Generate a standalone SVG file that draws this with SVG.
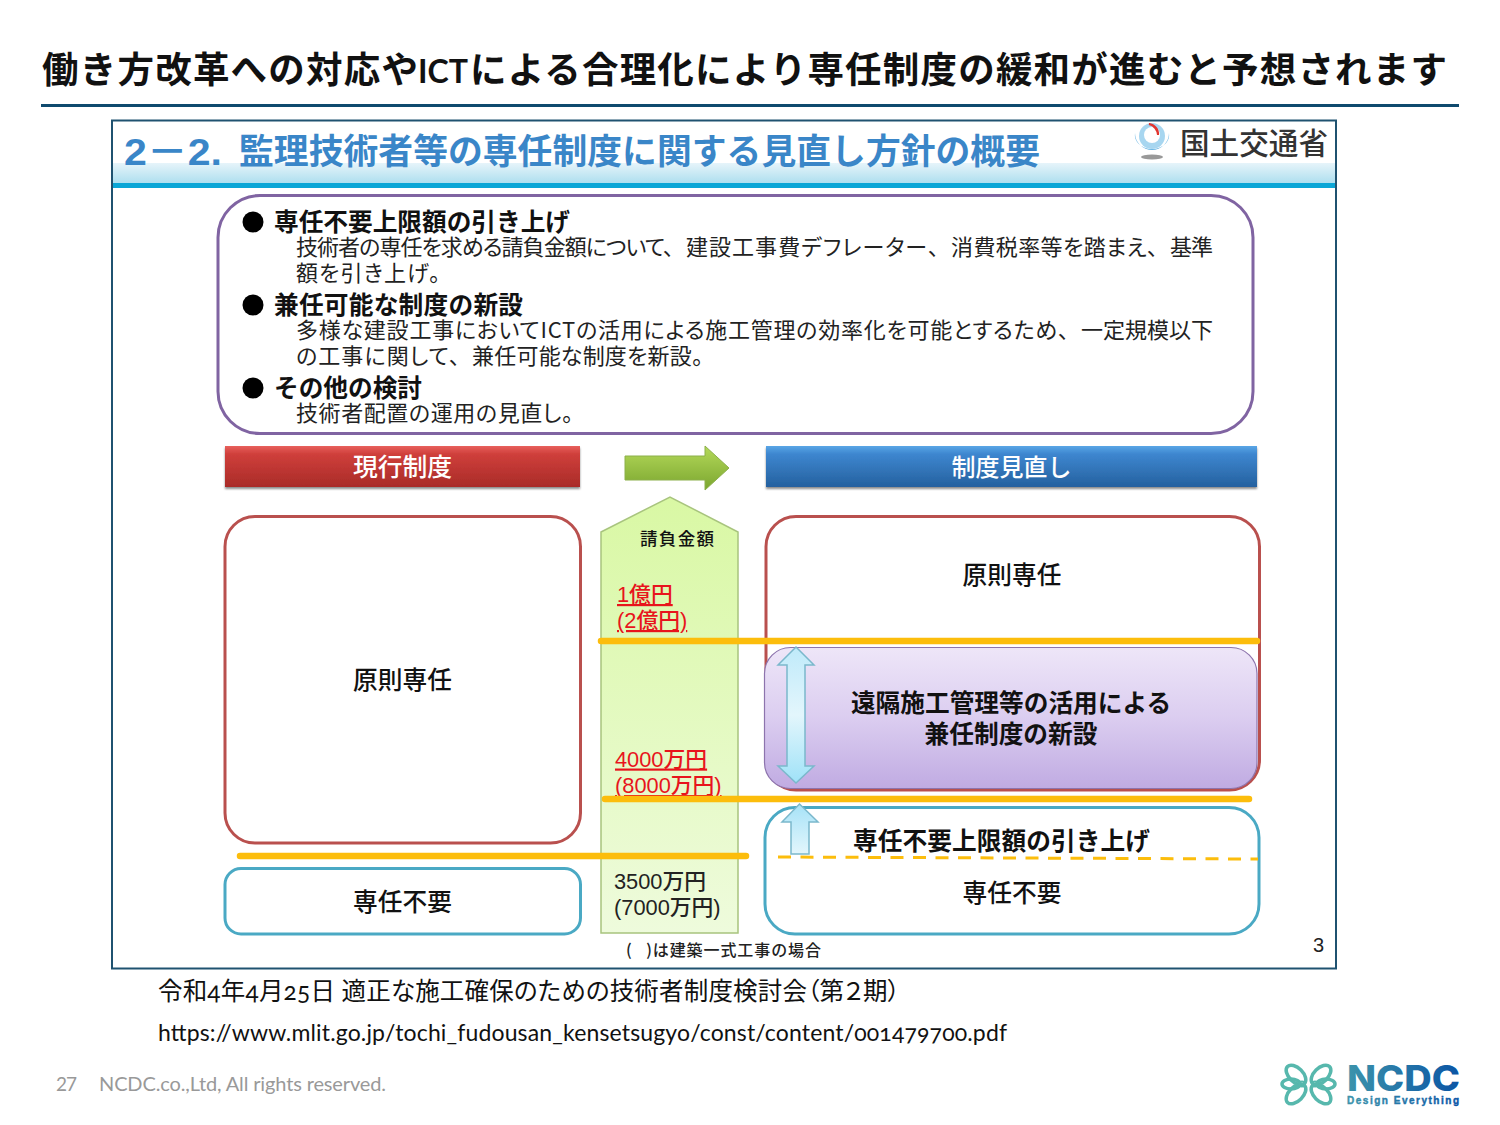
<svg xmlns="http://www.w3.org/2000/svg" width="1500" height="1125" viewBox="0 0 1500 1125">
<defs>
<linearGradient id="band" x1="0" y1="0" x2="0" y2="1"><stop offset="0" stop-color="#e6f4fa"/><stop offset="1" stop-color="#aedfef"/></linearGradient>
<linearGradient id="red" x1="0" y1="0" x2="0" y2="1"><stop offset="0" stop-color="#e8605c"/><stop offset="0.2" stop-color="#cf3f3b"/><stop offset="1" stop-color="#a92b28"/></linearGradient>
<linearGradient id="blue" x1="0" y1="0" x2="0" y2="1"><stop offset="0" stop-color="#5aa6e6"/><stop offset="0.2" stop-color="#3d86cf"/><stop offset="1" stop-color="#25619f"/></linearGradient>
<linearGradient id="green" x1="0" y1="0" x2="0" y2="1"><stop offset="0" stop-color="#b4d95a"/><stop offset="1" stop-color="#7ba62f"/></linearGradient>
<linearGradient id="pent" x1="0" y1="0" x2="0" y2="1"><stop offset="0" stop-color="#d9f8a4"/><stop offset="1" stop-color="#eefbdc"/></linearGradient>
<linearGradient id="purple" x1="0" y1="0" x2="0" y2="1"><stop offset="0" stop-color="#eee6f8"/><stop offset="0.5" stop-color="#dbcdf0"/><stop offset="1" stop-color="#c0abe2"/></linearGradient>
<linearGradient id="cy" x1="0" y1="0" x2="0" y2="1"><stop offset="0" stop-color="#bfeafa"/><stop offset="0.5" stop-color="#e3f6fc"/><stop offset="1" stop-color="#9fe2f8"/></linearGradient>
<linearGradient id="cy2" x1="0" y1="0" x2="0" y2="1"><stop offset="0" stop-color="#a6e2f7"/><stop offset="1" stop-color="#e3f6fc"/></linearGradient>
<linearGradient id="ncdc" x1="0" y1="0" x2="1" y2="0"><stop offset="0" stop-color="#3d94ab"/><stop offset="1" stop-color="#0b55a5"/></linearGradient>
<filter id="sh" x="-5%" y="-20%" width="110%" height="140%"><feDropShadow dx="0" dy="2" stdDeviation="1.2" flood-color="#000" flood-opacity="0.45"/></filter>
</defs>
<style>
text{font-family:"Noto Sans CJK JP","Noto Sans",sans-serif;fill:#111}
.lat{font-family:"Lato","Noto Sans CJK JP",sans-serif}
.b{font-weight:700}
.h{font-size:24.7px;font-weight:700}
.p{font-size:22px;fill:#222;font-feature-settings:"palt"}
.m{text-anchor:middle}
.w{fill:#fff;font-weight:500;font-size:24.800px}
.n{font-size:24.700px;font-weight:500}
.r{fill:#e8141c;font-size:21.800px;font-family:"Liberation Sans","Noto Sans CJK JP",sans-serif;text-decoration:underline;font-weight:500}
.k{font-size:21.800px;font-family:"Liberation Sans","Noto Sans CJK JP",sans-serif;fill:#222;font-weight:500}
.or{stroke:#fcbd0c;stroke-width:6.500;stroke-linecap:round;fill:none}
.redbox{fill:#fff;stroke:#b9504e;stroke-width:3}
.cybox{fill:#fff;stroke:#4aa9c4;stroke-width:3}
.arr{stroke:#7bb8cc;stroke-width:1.500}
.foot{fill:#999}
</style>
<rect width="1500" height="1125" fill="#fff"/>
<g id="page-title">
<text class="lat b" y="83" font-size="36.500"><tspan x="42" textLength="376">働き方改革への対応や</tspan><tspan x="418" font-size="33" textLength="50" lengthAdjust="spacingAndGlyphs">ICT</tspan><tspan x="470" textLength="977">による合理化により専任制度の緩和が進むと予想されます</tspan></text>
<rect x="41" y="104" width="1418" height="3" fill="#0f4a6e"/>
</g>
<g id="slide-frame">
<rect x="112" y="120.500" width="1224" height="848" fill="#fff" stroke="#1f5270" stroke-width="2"/>
<rect x="113" y="163" width="1222" height="20" fill="url(#band)"/>
<rect x="113" y="183" width="1222" height="5" fill="#0aa6d6"/>
</g>
<g id="slide-title">
<text x="124" y="165" font-size="37" font-weight="700" style="font-family:'Liberation Sans','Noto Sans CJK JP',sans-serif;fill:#3a86c8" textLength="98" lengthAdjust="spacingAndGlyphs">2－2.</text>
<text x="239" y="164" font-size="34.800" font-weight="700" style="fill:#3a86c8" textLength="801">監理技術者等の専任制度に関する見直し方針の概要</text>
</g>
<g id="mlit-logo">
<ellipse cx="1152" cy="157" rx="11" ry="2.500" fill="#999"/>
<path d="M1135 133 A17 17 0 0 0 1169 133 A17 14 0 0 1 1152 149 A17 14 0 0 1 1135 133Z" fill="#6db7e4"/>
<circle cx="1152" cy="136" r="13" fill="#a7d6f0"/>
<circle cx="1152" cy="135" r="8" fill="#fff"/>
<path d="M1149 124 A10 10 0 0 1 1158 135 A12 12 0 0 0 1149 124Z" fill="#e2352f" stroke="#e2352f" stroke-width="2"/>
<text x="1180" y="154" font-size="29.600" font-weight="500" textLength="148" style="fill:#333">国土交通省</text>
</g>
<g id="summary">
<rect x="218" y="195.500" width="1035" height="238" rx="42" fill="#fff" stroke="#8064a2" stroke-width="3"/>
<circle cx="253" cy="222" r="10.500" fill="#000"/><circle cx="253" cy="305" r="10.500" fill="#000"/><circle cx="253" cy="388" r="10.500" fill="#000"/>
<text class="h" x="274" y="231" textLength="296">専任不要上限額の引き上げ</text>
<text class="p" y="255"><tspan x="296" textLength="378">技術者の専任を求める請負金額について、</tspan><tspan x="686" textLength="253">建設工事費デフレーター、</tspan><tspan x="951" textLength="207">消費税率等を踏まえ、</tspan><tspan x="1170" textLength="43">基準</tspan></text>
<text class="p" x="296" y="281" textLength="144">額を引き上げ。</text>
<text class="h" x="274" y="314" textLength="249">兼任可能な制度の新設</text>
<text class="p" y="338"><tspan x="296" textLength="773">多様な建設工事においてICTの活用による施工管理の効率化を可能とするため、</tspan><tspan x="1081" textLength="132">一定規模以下</tspan></text>
<text class="p" y="364"><tspan x="296" textLength="164">の工事に関して、</tspan><tspan x="472" textLength="231">兼任可能な制度を新設。</tspan></text>
<text class="h" x="274" y="397" textLength="148">その他の検討</text>
<text class="p" x="296" y="421" textLength="277">技術者配置の運用の見直し。</text>
</g>
<g id="header-current">
<rect x="225" y="446" width="355" height="41" fill="url(#red)" filter="url(#sh)"/>
<text class="w m" x="402.500" y="476">現行制度</text>
</g>
<g id="header-revised">
<rect x="766" y="446" width="491" height="41" fill="url(#blue)" filter="url(#sh)"/>
<text class="w m" x="1011.500" y="476" style="font-size:24px">制度見直し</text>
</g>
<g id="amount-column">
<path d="M601 532 L670 497 L738 532 V933 H601Z" fill="url(#pent)" stroke="#a8c47e" stroke-width="1.500"/>
<text x="640" y="545" font-size="17.500" font-weight="500" textLength="74">請負金額</text>
<text class="r" x="617" y="602">1億円</text>
<text class="r" x="617" y="628">(2億円)</text>
<text class="r" x="615" y="766.500">4000万円</text>
<text class="r" x="615" y="793">(8000万円)</text>
<text class="k" x="614" y="889">3500万円</text>
<text class="k" x="614" y="915">(7000万円)</text>
</g>
<g id="current-exclusive">
<rect x="225" y="516.500" width="355.500" height="326.500" rx="30" class="redbox"/>
<text class="n m" x="402.500" y="689">原則専任</text>
</g>
<g id="current-not-required">
<rect x="225" y="868.500" width="355.500" height="65.500" rx="16" class="cybox"/>
<text class="n m" x="402.500" y="911">専任不要</text>
</g>
<g id="revised-exclusive">
<rect x="766" y="516.500" width="493.500" height="273.500" rx="30" class="redbox"/>
<text class="n m" x="1012" y="584">原則専任</text>
</g>
<g id="revised-concurrent">
<rect x="764.500" y="647.500" width="492.500" height="141" rx="26" fill="url(#purple)" stroke="#8d74ad" stroke-width="1.200"/>
<text class="h m" x="1011" y="712">遠隔施工管理等の活用による</text>
<text class="h m" x="1011" y="743">兼任制度の新設</text>
</g>
<g id="revised-not-required">
<rect x="765" y="807.500" width="494" height="126.500" rx="30" class="cybox"/>
<text class="h" x="853" y="850" textLength="297">専任不要上限額の引き上げ</text>
<text class="n m" x="1012" y="902">専任不要</text>
</g>
<g id="connectors">
<path class="or" d="M601 641 H1257"/>
<path class="or" d="M605 799 H1249"/>
<path class="or" d="M240 856 H746"/>
<path d="M778 857 L1258 859" fill="none" stroke="#fcbd0c" stroke-width="3" stroke-dasharray="13 9.500"/>
<path d="M625 456 H705 V446 L729 468 L705 490 V480 H625Z" fill="url(#green)" stroke="#8cb04a" stroke-width="1"/>
<path class="arr" fill="url(#cy)" d="M796 647 L814 665 H805 V766 H814 L796 783 L778 766 H787 V665 H778Z"/>
<path class="arr" fill="url(#cy2)" d="M799.500 804 L818 822 H809 V854 H791 V822 H782Z"/>
</g>
<g id="notes">
<text x="626" y="956" font-size="16" font-weight="500" textLength="195" style="fill:#222">(&#160;&#160;&#160;)は建築一式工事の場合</text>
<text x="1313" y="952" font-size="20" style="font-family:'Liberation Sans',sans-serif;fill:#222">3</text>
</g>
<g id="source">
<text class="lat" x="158" y="1000" font-size="24.500" textLength="742" style="font-variant-numeric:oldstyle-nums;font-feature-settings:'palt','onum'">令和4年4月25日 適正な施工確保のための技術者制度検討会（第２期）</text>
<text class="lat" x="158" y="1041" font-size="23" textLength="849" style="font-variant-numeric:oldstyle-nums">https://www.mlit.go.jp/tochi_fudousan_kensetsugyo/const/content/001479700.pdf</text>
</g>
<g id="footer">
<text class="lat foot" x="56" y="1091" font-size="19" textLength="21">27</text>
<text class="lat foot" x="99" y="1091" font-size="20" textLength="287">NCDC.co.,Ltd, All rights reserved.</text>
</g>
<g id="ncdc-logo">
<g fill="none" stroke="#57b8ad" stroke-width="3.500">
<ellipse cx="1296" cy="1075" rx="12" ry="7" transform="rotate(45 1296 1075)"/>
<ellipse cx="1321" cy="1075" rx="12" ry="7" transform="rotate(-45 1321 1075)"/>
<ellipse cx="1296" cy="1094" rx="12" ry="7" transform="rotate(-45 1296 1094)"/>
<ellipse cx="1321" cy="1094" rx="12" ry="7" transform="rotate(45 1321 1094)"/>
<ellipse cx="1291" cy="1084" rx="9" ry="5"/>
<ellipse cx="1326" cy="1084" rx="9" ry="5"/>
<ellipse cx="1302" cy="1084" rx="3" ry="2.500" stroke-width="2"/>
<ellipse cx="1315" cy="1084" rx="3" ry="2.500" stroke-width="2"/>
</g>
<text x="1347" y="1091" font-size="36" textLength="113" lengthAdjust="spacingAndGlyphs" style="font-family:Inter,'Liberation Sans',sans-serif;font-weight:800;fill:url(#ncdc)">NCDC</text>
<text x="1347" y="1104" font-size="10" textLength="112" style="font-family:'Liberation Sans',sans-serif;font-weight:700;fill:url(#ncdc);stroke:url(#ncdc);stroke-width:.4">Design Everything</text>
</g>
</svg>
